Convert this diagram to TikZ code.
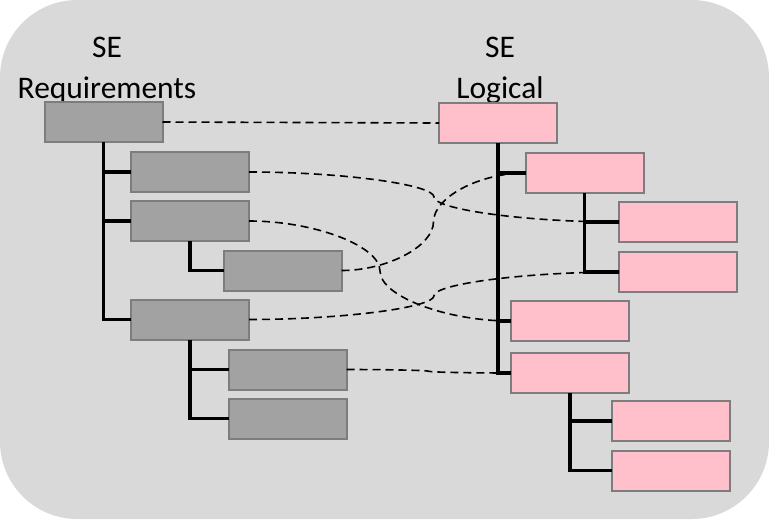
\documentclass[tikz,border=0pt]{standalone}
\usepackage{fontspec}
\setmainfont{Carlito}
\usetikzlibrary{calc}
\definecolor{bggray}{RGB}{217,217,217}
\definecolor{boxgray}{RGB}{162,162,162}
\definecolor{boxpink}{RGB}{255,192,203}
\definecolor{edgegray}{RGB}{125,125,125}
\tikzset{
  gbox/.style={draw=edgegray, fill=boxgray, line width=1.5pt, minimum width=88.5pt, minimum height=30pt, inner sep=0pt, outer sep=0pt},
  pbox/.style={gbox, fill=boxpink},
  tree/.style={line width=2.8pt},
  curv/.style={to path={let \p1=(\tikztostart), \p2=(\tikztotarget) in
      .. controls ({0.75*\x1+0.25*\x2},\y1) and ({0.5*\x1+0.5*\x2},{0.75*\y1+0.25*\y2}) .. ({0.5*\x1+0.5*\x2},{0.5*\y1+0.5*\y2})
      .. controls ({0.5*\x1+0.5*\x2},{0.25*\y1+0.75*\y2}) and ({0.25*\x1+0.75*\x2},\y2) .. (\tikztotarget)}},
  trace/.style={line width=1.2pt, dash pattern=on 6pt off 3.75pt, curv},
  head/.style={align=center, inner sep=0pt, font={\fontsize{23.6}{30.5}\selectfont}}
}

\begin{document}
\begin{tikzpicture}[x=0.75pt,y=0.75pt,yscale=-1,xscale=1]
\useasboundingbox (0,0) rectangle (769,519);
\fill[bggray, rounded corners=58pt] (0,0) rectangle (769,519);

% Text Node
\node[head, anchor=north] (reqtitle) at (107,37) {SE\\Requirements};
% Text Node
\node[head, anchor=north] (logtitle) at (500,37) {SE\\Logical};

% Requirements tree
\node[gbox] (L0) at (103.5,122) {};
\node[gbox] (L1) at (190,172) {};
\node[gbox] (L2) at (190,221) {};
\node[gbox] (L3) at (282.5,270.5) {};
\node[gbox] (L4) at (190,319.5) {};
\node[gbox] (L5) at (287.5,369.5) {};
\node[gbox] (L6) at (287.5,418.5) {};

% Logical tree
\node[pbox] (R0) at (498,123) {};
\node[pbox] (R1) at (584.5,173) {};
\node[pbox] (R2) at (678,222) {};
\node[pbox] (R3) at (678,272) {};
\node[pbox] (R4) at (570,321) {};
\node[pbox] (R5) at (570,373) {};
\node[pbox] (R6) at (671,421) {};
\node[pbox] (R7) at (671,470.5) {};

% Connection
\draw[trace] (L0.east) -- (R0.west);
\draw[trace] (L1.east) to (R2.west);
\draw[trace] (L2.east) to (R4.west);
\draw[trace] (L3.east) to (R1.west);
\draw[trace] (L4.east) to (R3.west);
\draw[trace] (L5.east) to (R5.west);

% Tree lines
\foreach \p/\c in {L0/L1, L0/L2, L0/L4, L2/L3, L4/L5, L4/L6,
                   R0/R1, R0/R4, R0/R5, R1/R2, R1/R3, R5/R6, R5/R7}
  \draw[tree] (\p.south) |- (\c.west);

\end{tikzpicture}
\end{document}
